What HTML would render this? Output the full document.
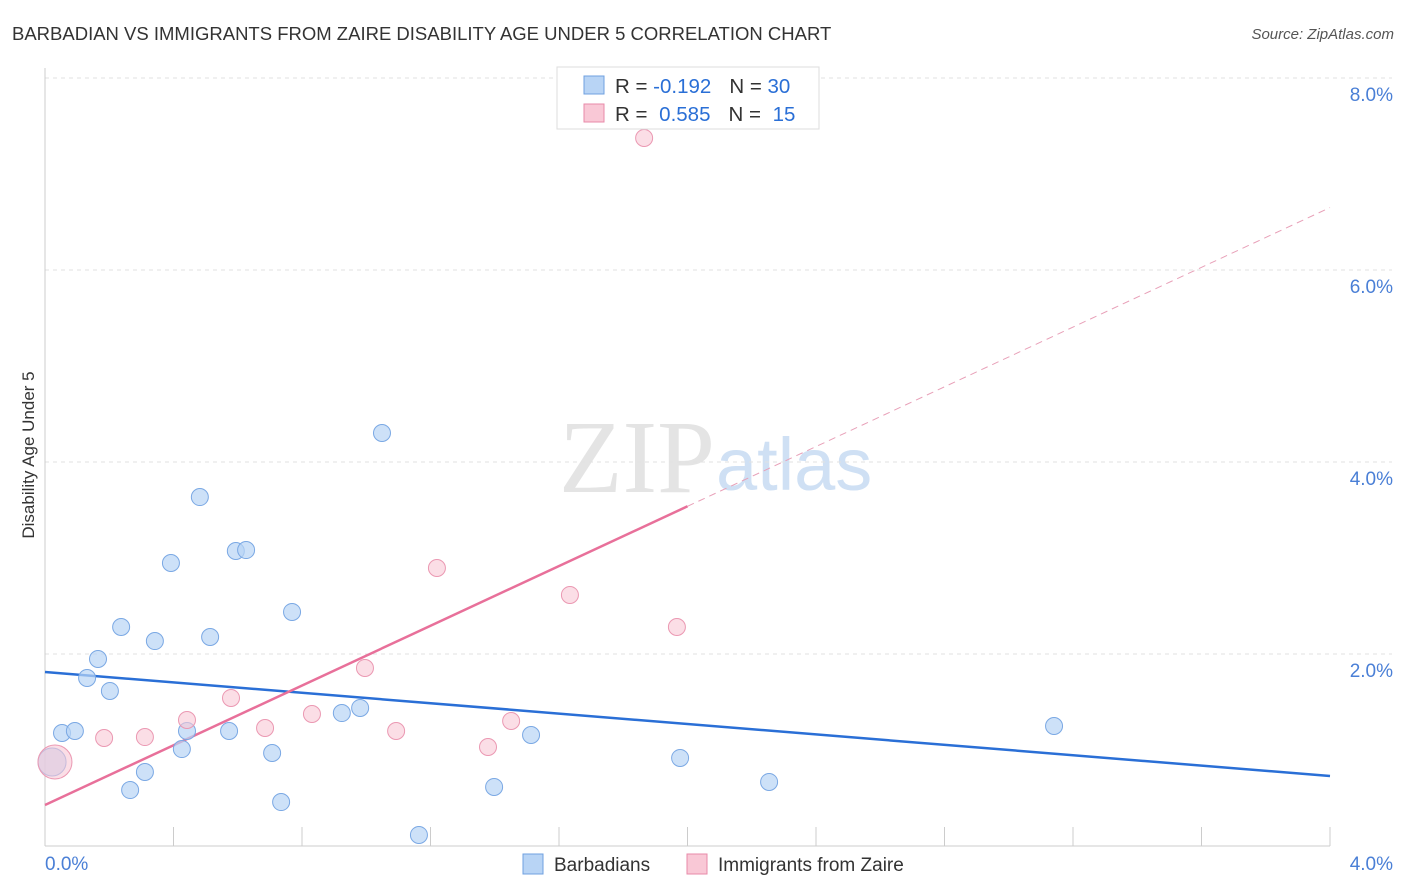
<!DOCTYPE html>
<html><head><meta charset="utf-8"><style>
body{margin:0;background:#fff;font-family:"Liberation Sans",sans-serif;}
#c{position:relative;width:1406px;height:892px;overflow:hidden}
</style></head><body>
<div id="c">
<svg id="s" width="1406" height="892">
<text x="12" y="40" font-size="18.5" fill="#333">BARBADIAN VS IMMIGRANTS FROM ZAIRE DISABILITY AGE UNDER 5 CORRELATION CHART</text>
<text x="1394" y="39" font-size="15" fill="#555" font-style="italic" text-anchor="end">Source: ZipAtlas.com</text>
<text x="34" y="455" font-size="17" fill="#333" text-anchor="middle" transform="rotate(-90 34 455)">Disability Age Under 5</text>
<text x="715" y="492" font-size="104" fill="#e4e4e4" text-anchor="end" font-family="Liberation Serif">ZIP</text>
<text x="716" y="490" font-size="74" fill="#cfe0f4">atlas</text>
<g id="grid"></g><g id="lines"></g><g id="pts"></g>
<rect x="557" y="67" width="262" height="62" fill="#fff" stroke="#ddd"/>
<rect x="584" y="76" width="20" height="18" fill="#b8d4f5" stroke="#6fa0e0"/>
<rect x="584" y="104" width="20" height="18" fill="#f9c8d6" stroke="#e88aa8"/>
<text x="615" y="93" font-size="20.5" fill="#333">R = <tspan fill="#2a6fd6">-0.192</tspan><tspan dx="18">N = </tspan><tspan fill="#2a6fd6">30</tspan></text>
<text x="615" y="121" font-size="20.5" fill="#333">R = <tspan fill="#2a6fd6" dx="6">0.585</tspan><tspan dx="18">N = </tspan><tspan fill="#2a6fd6" dx="6">15</tspan></text>
<rect x="523" y="854" width="20" height="20" fill="#b8d4f5" stroke="#6fa0e0"/>
<text x="554" y="871" font-size="19" fill="#333">Barbadians</text>
<rect x="687" y="854" width="20" height="20" fill="#f9c8d6" stroke="#e88aa8"/>
<text x="718" y="871" font-size="19" fill="#333">Immigrants from Zaire</text>
</svg></div>
<script>
const blueX=[0.022,0.053,0.093,0.131,0.165,0.202,0.237,0.265,0.311,0.342,0.392,0.426,0.442,0.482,0.514,0.573,0.594,0.626,0.707,0.735,0.769,0.924,0.981,1.049,1.164,1.398,1.513,1.977,2.254,3.141];
const blueY=[0.875,1.177,1.198,1.75,1.948,1.615,2.281,0.583,0.771,2.135,2.948,1.010,1.198,3.635,2.177,1.198,3.073,3.083,0.969,0.458,2.438,1.385,1.438,4.302,0.115,0.615,1.156,0.917,0.667,1.25];
const pinkX=[0.031,0.184,0.311,0.442,0.579,0.685,0.831,0.996,1.093,1.220,1.379,1.451,1.634,1.865,1.967];
const pinkY=[0.875,1.125,1.135,1.3125,1.542,1.229,1.375,1.854,1.198,2.896,1.031,1.302,2.615,7.375,2.281];
const yTicks=[2,4,6,8];
const yTickLabels=["2.0%","4.0%","6.0%","8.0%"];
const xTickLabels=["0.0%","4.0%"];
const blueLine=[1.8125,0.729];
const pinkLine=[0.427,6.65];
const pinkSolidEnd=2.0;
const NS="http://www.w3.org/2000/svg";
const X0=45,X1=1330,Y0=846,PY=96;
const xs=v=>X0+v/4*(X1-X0), ys=v=>Y0-v*PY;
function mk(t,a,p){const e=document.createElementNS(NS,t);for(const k in a)e.setAttribute(k,a[k]);document.getElementById(p).appendChild(e);return e;}
const g='grid';
yTicks.forEach((t,i)=>{
 const l=mk('line',{x1:X0,x2:1392,y1:ys(t),y2:ys(t),stroke:'#e2e2e2','stroke-dasharray':'4,4'},g);
 
 
 const tx=mk('text',{x:1393,y:ys(t)+23,'font-size':19,fill:'#4a7fd6','text-anchor':'end'},g);
 tx.textContent=yTickLabels[i];
 
 
});
const ax=mk('line',{x1:X0,x2:X0,y1:68,y2:Y0,stroke:'#ccc'},g);


const bx=mk('line',{x1:X0,x2:X1,y1:Y0,y2:Y0,stroke:'#ccc'},g);


for(let i=1;i<=10;i++){const t=mk('line',{x1:xs(i*0.4),x2:xs(i*0.4),y1:827,y2:Y0,stroke:'#ccc'},g);
 
 }
[[0,'start',45],[4,'end',1393]].forEach((d,i)=>{const t=mk('text',{x:d[2],y:870,'font-size':19,fill:'#4a7fd6','text-anchor':d[1]},g);t.textContent=xTickLabels[i];
 
 });
const pAt=v=>pinkLine[0]+(pinkLine[1]-pinkLine[0])*v/4;
let l1=mk('line',{x1:xs(0),y1:ys(blueLine[0]),x2:xs(4),y2:ys(blueLine[1]),stroke:'#2a6fd6','stroke-width':2.5},'lines');


let l2=mk('line',{x1:xs(0),y1:ys(pAt(0)),x2:xs(pinkSolidEnd),y2:ys(pAt(pinkSolidEnd)),stroke:'#e8709a','stroke-width':2.5},'lines');


let l3=mk('line',{x1:xs(pinkSolidEnd),y1:ys(pAt(pinkSolidEnd)),x2:xs(4),y2:ys(pAt(4)),stroke:'#e8a0b8','stroke-width':1,'stroke-dasharray':'7,5'},'lines');


blueX.forEach((v,i)=>{const c=mk('circle',{cx:xs(v),cy:ys(blueY[i]),r:i==0?14:8.5,fill:'#b8d4f5','fill-opacity':0.7,stroke:'#7aa8e4','stroke-width':1},'pts');
 
 });
pinkX.forEach((v,i)=>{const c=mk('circle',{cx:xs(v),cy:ys(pinkY[i]),r:i==0?17:8.5,fill:'#f9c8d6','fill-opacity':0.6,stroke:'#eb98b2','stroke-width':1},'pts');
 
 });
</script>
</body></html>
